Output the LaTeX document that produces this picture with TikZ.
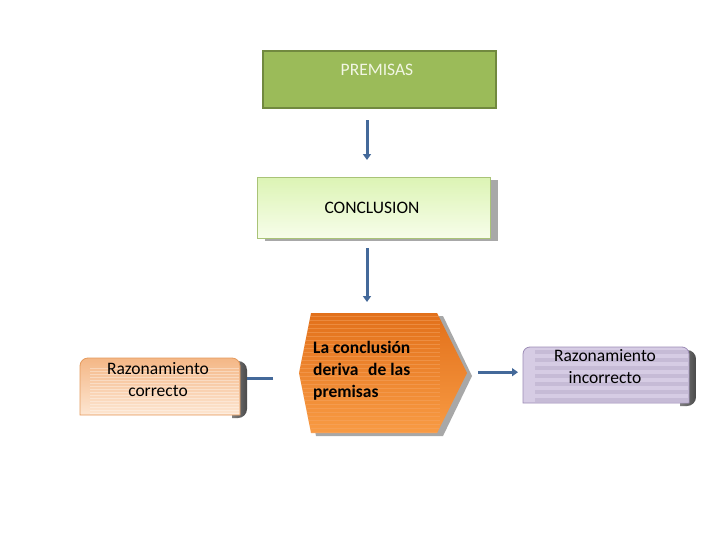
\documentclass[tikz,border=0pt]{standalone}
\usepackage{fontspec}
\setmainfont{Carlito}
\usetikzlibrary{arrows.meta,calc}
\definecolor{premF}{HTML}{9BBB59}
\definecolor{premB}{HTML}{71893F}
\definecolor{premT}{HTML}{F2F6E4}
\definecolor{concTop}{HTML}{DCF4B4}
\definecolor{concBot}{HTML}{F7FDEA}
\definecolor{concB}{HTML}{A9C377}
\definecolor{hexTop}{HTML}{E2701A}
\definecolor{hexBot}{HTML}{F89B44}
\definecolor{hexLine}{HTML}{F6A868}
\definecolor{corTop}{HTML}{F4B786}
\definecolor{corBot}{HTML}{FDE6D2}
\definecolor{corB}{HTML}{E59A5C}
\definecolor{incF}{HTML}{D6CCE4}
\definecolor{incS}{HTML}{BCB0CE}
\definecolor{incB}{HTML}{9C8CB6}
\definecolor{arr}{HTML}{44699A}
\definecolor{shad}{HTML}{A8A8A8}
\definecolor{dshad}{HTML}{4A4A4A}
\tikzset{
  txt/.style={font=\fontsize{17.5}{22}\selectfont, inner sep=0pt, align=center},
  conn/.style={draw=arr, line width=3pt},
  tipd/.style={-{Triangle[length=6pt,width=8pt]}},
  hidden/.style={draw=none, inner sep=0pt, anchor=north west},
}
\begin{document}
\begin{tikzpicture}[x=1pt,y=-1pt]
\useasboundingbox (0,0) rectangle (728,546);
\fill[white] (0,0) rectangle (728,546);

% PREMISAS
\node[draw=premB, line width=2.2pt, fill=premF, minimum width=233pt, minimum height=57pt, anchor=north west, inner sep=0pt] (prem) at (262,50) {};
\node[txt, text=premT] (premt) at (377,70) {PREMISAS};

% CONCLUSION
\fill[shad] (265,180) rectangle (498,241);
\shade[top color=concTop, bottom color=concBot, draw=concB, line width=0.8pt] (257,177) rectangle (490,238);
\node[hidden, minimum width=233pt, minimum height=61pt] (conc) at (257,177) {};
\node[txt] (conct) at (372,208) {CONCLUSION};

% hexagon
\fill[shad] (316,316) -- (443,316) -- (472,376) -- (443,436) -- (316,436) -- (304,376) -- cycle;
\shade[top color=hexTop, bottom color=hexBot] (311,313) -- (437,313) -- (467,373) -- (437,433) -- (311,433) -- (299,373) -- cycle;
\begin{scope}
\clip (311,313) -- (437,313) -- (467,373) -- (437,433) -- (311,433) -- (299,373) -- cycle;
\foreach \yy in {316,320,...,432} {\draw[hexLine, opacity=0.45, line width=0.6pt] (295,\yy) -- (440,\yy);}
\end{scope}
\node[hidden, minimum width=168pt, minimum height=120pt] (hex) at (299,313) {};
\node[inner sep=0pt, anchor=west, font=\fontsize{17.5}{22}\selectfont\bfseries] (hext) at (313,371) {\begin{tabular}{@{}l@{}}La conclusión\\deriva\hspace{0.55em}de las\\premisas\end{tabular}};

% Razonamiento correcto
\shade[left color=dshad!70, right color=dshad] (232,361) [rounded corners=9pt] -- (247,361) -- (247,418) [sharp corners] -- (232,418) -- cycle;
\shade[top color=corTop, bottom color=corBot, draw=corB, line width=0.8pt]
  (80,415) [rounded corners=8pt] -- (80,358) -- (240,358) [sharp corners] -- (240,415) -- cycle;
\begin{scope}
\clip (81,366) rectangle (239,414);
\foreach \yy in {368,371,...,414} {\draw[white, opacity=0.35, line width=0.6pt] (90,\yy) -- (239,\yy);}
\end{scope}
\node[hidden, minimum width=160pt, minimum height=57pt] (cor) at (80,358) {};
\node[txt] (cort) at (158,380) {Razonamiento\\correcto};

% Razonamiento incorrecto
\shade[left color=dshad!70, right color=dshad] (680,350) [rounded corners=9pt] -- (696,350) -- (696,406) [sharp corners] -- (680,406) -- cycle;
\fill[incF] (523,403) [rounded corners=7pt] -- (523,347) -- (689,347) [sharp corners] -- (689,403) -- cycle;
\begin{scope}
\clip (524,348) rectangle (688,402);
\foreach \yy in {350,358,...,402} {\fill[incS, opacity=0.6] (535,\yy) rectangle (688,\yy+3.5);}
\end{scope}
\draw[incB, line width=0.8pt] (523,403) [rounded corners=7pt] -- (523,347) -- (689,347) [sharp corners] -- (689,403) -- cycle;
\node[hidden, minimum width=166pt, minimum height=56pt] (inc) at (523,347) {};
\node[txt] (inct) at (605,367) {Razonamiento\\incorrecto};

% connectors
\draw[conn, tipd, shorten <=11pt, shorten >=17pt] (prem.south -| 367,0) -- (conc.north -| 367,0);
\draw[conn, tipd, shorten <=10pt, shorten >=11pt] (conc.south -| 367,0) -- (hex.north -| 367,0);
\draw[conn, shorten <=26pt, shorten >=7pt] ([yshift=-5pt]hex.west) -- ([yshift=-5pt]hex.west -| cor.east);
\draw[conn, tipd, shorten <=11pt, shorten >=5pt] ([yshift=1pt]hex.east) -- ([yshift=1pt]hex.east -| inc.west);
\end{tikzpicture}
\end{document}
